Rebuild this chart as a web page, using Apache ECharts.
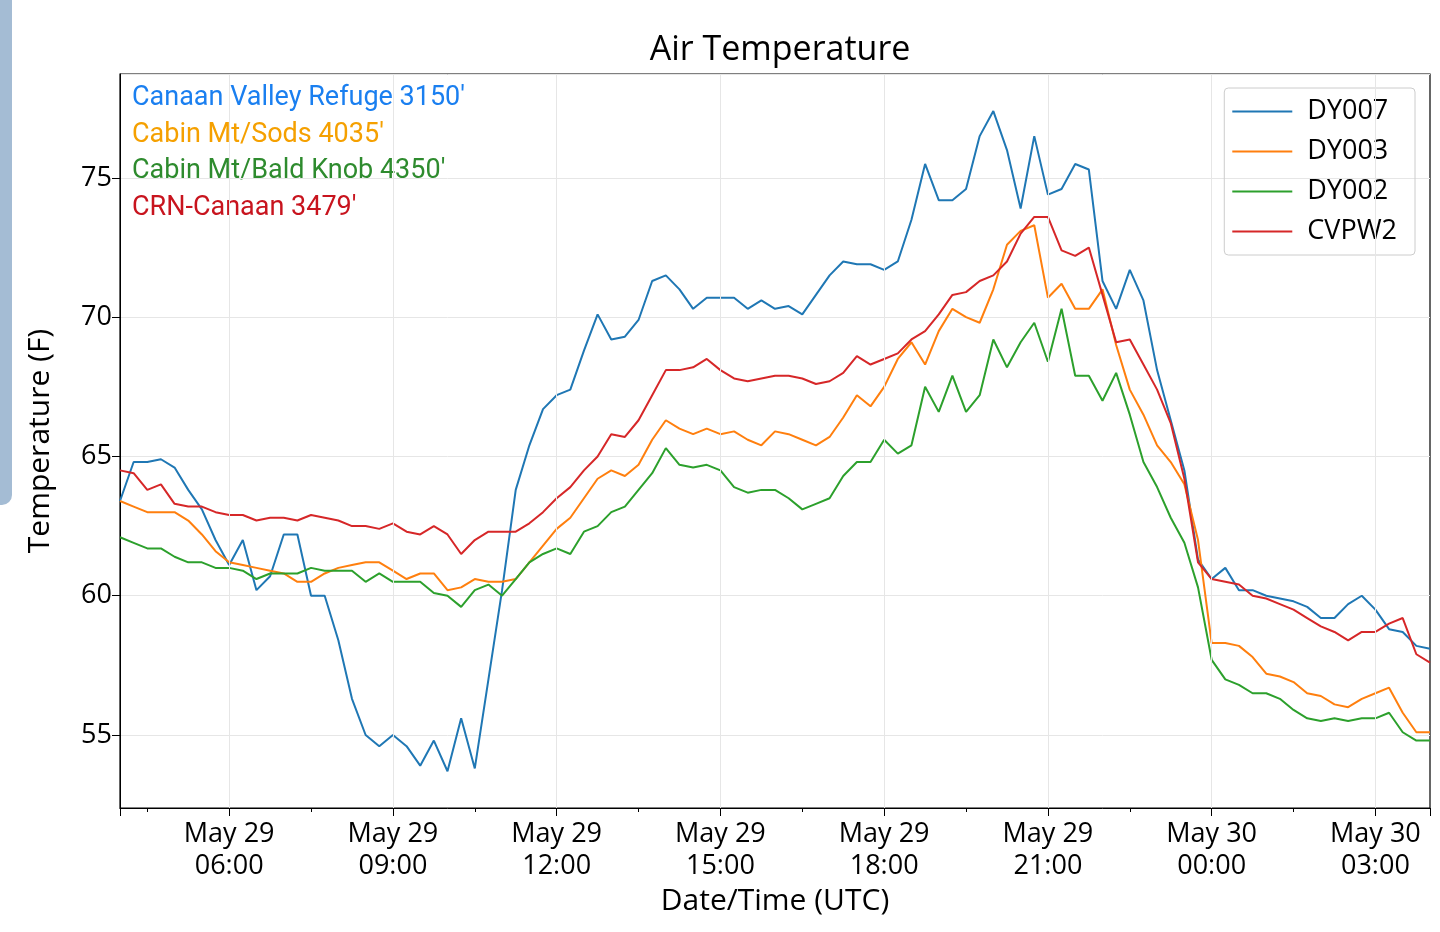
<!DOCTYPE html>
<html><head><meta charset="utf-8">
<script src="https://cdn.jsdelivr.net/npm/echarts@6/dist/echarts.min.js"></script>
<style>html,body{margin:0;padding:0;background:#fff}#c{width:1440px;height:932px}</style>
</head><body><div id="c"></div>
<script>
// hours since May 29 00:00 UTC, 15-minute steps from 04:00 to 28:00
const startHour = 4, stepHour = 0.25;
const seriesNames = ['DY007','DY003','DY002','CVPW2'];
const DY007 = [63.4,64.8,64.8,64.9,64.6,63.8,63.1,62.0,61.1,62.0,60.2,60.7,62.2,62.2,60.0,60.0,58.4,56.3,55.0,54.6,55.0,54.6,53.9,54.8,53.7,55.6,53.8,57.0,60.2,63.8,65.4,66.7,67.2,67.4,68.8,70.1,69.2,69.3,69.9,71.3,71.5,71.0,70.3,70.7,70.7,70.7,70.3,70.6,70.3,70.4,70.1,70.8,71.5,72.0,71.9,71.9,71.7,72.0,73.5,75.5,74.2,74.2,74.6,76.5,77.4,76.0,73.9,76.5,74.4,74.6,75.5,75.3,71.3,70.3,71.7,70.6,68.1,66.3,64.5,61.3,60.6,61.0,60.2,60.2,60.0,59.9,59.8,59.6,59.2,59.2,59.7,60.0,59.5,58.8,58.7,58.2,58.1];
const DY003 = [63.4,63.2,63.0,63.0,63.0,62.7,62.2,61.6,61.2,61.1,61.0,60.9,60.8,60.5,60.5,60.8,61.0,61.1,61.2,61.2,60.9,60.6,60.8,60.8,60.2,60.3,60.6,60.5,60.5,60.6,61.2,61.8,62.4,62.8,63.5,64.2,64.5,64.3,64.7,65.6,66.3,66.0,65.8,66.0,65.8,65.9,65.6,65.4,65.9,65.8,65.6,65.4,65.7,66.4,67.2,66.8,67.5,68.5,69.1,68.3,69.5,70.3,70.0,69.8,71.0,72.6,73.1,73.3,70.7,71.2,70.3,70.3,71.0,69.0,67.4,66.5,65.4,64.8,64.0,62.0,58.3,58.3,58.2,57.8,57.2,57.1,56.9,56.5,56.4,56.1,56.0,56.3,56.5,56.7,55.8,55.1,55.1];
const DY002 = [62.1,61.9,61.7,61.7,61.4,61.2,61.2,61.0,61.0,60.9,60.6,60.8,60.8,60.8,61.0,60.9,60.9,60.9,60.5,60.8,60.5,60.5,60.5,60.1,60.0,59.6,60.2,60.4,60.0,60.6,61.2,61.5,61.7,61.5,62.3,62.5,63.0,63.2,63.8,64.4,65.3,64.7,64.6,64.7,64.5,63.9,63.7,63.8,63.8,63.5,63.1,63.3,63.5,64.3,64.8,64.8,65.6,65.1,65.4,67.5,66.6,67.9,66.6,67.2,69.2,68.2,69.1,69.8,68.4,70.3,67.9,67.9,67.0,68.0,66.5,64.8,63.9,62.8,61.9,60.3,57.7,57.0,56.8,56.5,56.5,56.3,55.9,55.6,55.5,55.6,55.5,55.6,55.6,55.8,55.1,54.8,54.8];
const CVPW2 = [64.5,64.4,63.8,64.0,63.3,63.2,63.2,63.0,62.9,62.9,62.7,62.8,62.8,62.7,62.9,62.8,62.7,62.5,62.5,62.4,62.6,62.3,62.2,62.5,62.2,61.5,62.0,62.3,62.3,62.3,62.6,63.0,63.5,63.9,64.5,65.0,65.8,65.7,66.3,67.2,68.1,68.1,68.2,68.5,68.1,67.8,67.7,67.8,67.9,67.9,67.8,67.6,67.7,68.0,68.6,68.3,68.5,68.7,69.2,69.5,70.1,70.8,70.9,71.3,71.5,72.0,73.0,73.6,73.6,72.4,72.2,72.5,70.8,69.1,69.2,68.3,67.4,66.2,64.2,61.2,60.6,60.5,60.4,60.0,59.9,59.7,59.5,59.2,58.9,58.7,58.4,58.7,58.7,59.0,59.2,57.9,57.6];
const stationLabels = ["Canaan Valley Refuge 3150'","Cabin Mt/Sods 4035'","Cabin Mt/Bald Knob 4350'","CRN-Canaan 3479'"];
const stationColors = ['#1a7ff0','#f5a000','#2e8b2e','#c8141e'];
const lineColors = ['#1f77b4','#ff7f0e','#2ca02c','#d62728'];
const gridHours = [6,9,12,15,18,21,24,27];

const allData = [DY007, DY003, DY002, CVPW2];
const pad = n => (n < 10 ? '0' : '') + n;
const chart = echarts.init(document.getElementById('c'));
const series = allData.map((arr, i) => ({
  name: seriesNames[i], type: 'line', symbol: 'none', z: 3,
  lineStyle: {width: 2, color: lineColors[i]}, itemStyle: {color: lineColors[i]},
  data: arr.map((v, k) => [startHour + k * stepHour, v]),
  markLine: i === 0 ? {silent: true, symbol: 'none', label: {show: false},
    lineStyle: {color: '#e6e6e6', type: 'solid', width: 1},
    data: gridHours.map(h => ({xAxis: h}))} : undefined
}));
const txt = 'Roboto, "Noto Sans", sans-serif';
chart.setOption({
  animation: false,
  title: {text: 'Air Temperature', left: 775, top: 28, textAlign: 'center',
    textStyle: {fontSize: 34, fontWeight: 'normal', color: '#000', fontFamily: '"Open Sans", sans-serif'}},
  grid: {left: 120, right: 10, top: 74, bottom: 124, show: true, borderColor: '#000', borderWidth: 1.2},
  legend: {orient: 'vertical', right: 25, top: 88, data: seriesNames.map(n => ({name: n, icon: 'rect'})),
    itemWidth: 60, itemHeight: 2, itemGap: 13,
    padding: [10, 18, 10, 8], borderColor: '#ccc', borderWidth: 1, borderRadius: 4,
    textStyle: {fontSize: 27, color: '#000', fontFamily: '"Open Sans", sans-serif', padding: [0, 0, 0, 10]}},
  xAxis: {type: 'value', min: 4, max: 28, splitNumber: 8,
    name: 'Date/Time (UTC)', nameLocation: 'middle', nameGap: 76,
    nameTextStyle: {fontSize: 30, color: '#000', fontFamily: '"Open Sans", sans-serif'},
    axisLine: {lineStyle: {color: '#000'}}, axisTick: {inside: false, length: 8, lineStyle: {color: '#000'}},
    minorTick: {show: true, splitNumber: 2, length: 4, lineStyle: {color: '#000'}},
    splitLine: {show: false},
    axisLabel: {fontSize: 27, color: '#000', lineHeight: 32, margin: 10, showMinLabel: false, showMaxLabel: false,
      fontFamily: '"Open Sans", sans-serif',
      formatter: v => (v < 24 ? 'May 29' : 'May 30') + '\n' + pad(Math.round(v) % 24) + ':00'}},
  yAxis: {type: 'value', min: 52.38, max: 78.73, splitNumber: 5,
    name: 'Temperature (F)', nameLocation: 'middle', nameGap: 65,
    nameTextStyle: {fontSize: 30, color: '#000', fontFamily: '"Open Sans", sans-serif'},
    axisLine: {lineStyle: {color: '#000'}}, axisTick: {length: 8, lineStyle: {color: '#000'}},
    splitLine: {lineStyle: {color: '#e6e6e6'}},
    axisLabel: {fontSize: 27, color: '#000', showMinLabel: false, showMaxLabel: false, fontFamily: '"Open Sans", sans-serif'}},
  graphic: [
    {type: 'rect', shape: {x: -10, y: -10, width: 22, height: 515, r: 10}, style: {fill: '#a4bcd4'}},
    ...stationLabels.map((t, i) => ({type: 'text', left: 132, top: 85 + i * 36.5,
      style: {text: t, fill: stationColors[i], fontSize: 27, fontFamily: txt}}))
  ],
  series
});
</script></body></html>
